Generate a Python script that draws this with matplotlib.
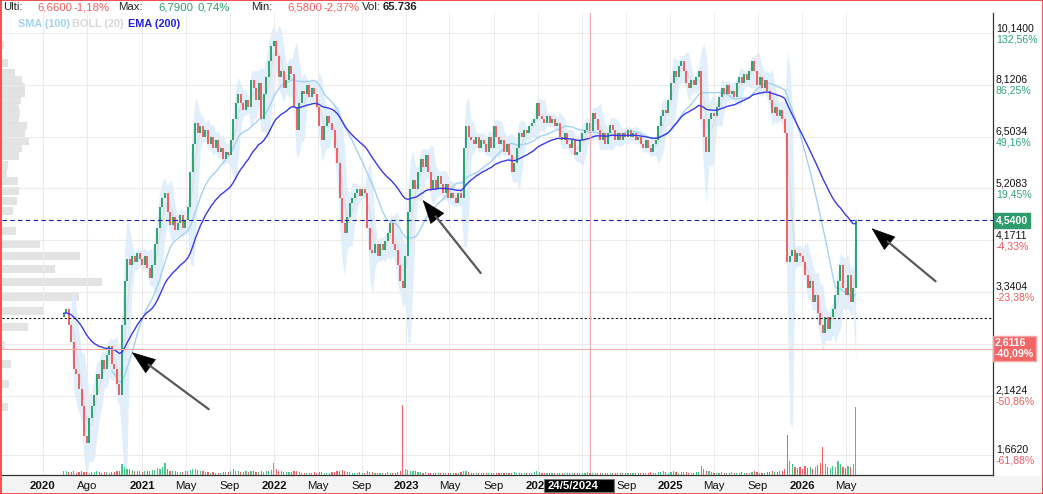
import numpy as np
import pandas as pd
import matplotlib
matplotlib.use('Agg')
import matplotlib.pyplot as plt
import matplotlib.dates as mdates
from matplotlib.patches import Rectangle
from matplotlib.ticker import FixedLocator, NullLocator

plt.rcParams['font.family'] = ['Liberation Sans', 'DejaVu Sans']

# weekly closes (first week 2020-05-29)
close = [3.05, 3.10, 2.90, 2.70, 2.40, 2.35, 2.20, 2.05, 1.80, 1.75,
         1.95, 2.05, 2.15, 2.35, 2.30, 2.50, 2.40, 2.55, 2.65, 2.45,
         2.40, 2.25, 2.15, 2.90, 3.50, 3.85, 3.75, 3.90, 3.80, 3.95,
         3.85, 3.75, 3.90, 3.70, 3.55, 3.75, 4.10, 4.40, 4.80, 5.00,
         5.10, 4.70, 4.45, 4.60, 4.35, 4.50, 4.65, 4.40, 4.55, 4.80,
         5.60, 6.30, 6.90, 6.60, 6.80, 6.50, 6.70, 6.30, 6.50, 6.20,
         6.40, 6.10, 6.20, 5.90, 6.10, 6.00, 6.40, 7.00, 7.50, 7.80,
         7.50, 7.30, 7.60, 7.40, 8.30, 8.00, 7.60, 8.20, 7.00, 7.80,
         8.40, 9.00, 9.60, 9.80, 9.20, 8.40, 8.60, 8.00, 8.30, 8.80,
         8.50, 7.40, 6.70, 7.50, 7.90, 7.80, 8.10, 7.70, 8.00, 7.80,
         7.40, 6.80, 6.40, 6.80, 7.10, 6.90, 6.70, 6.20, 5.80, 5.00,
         4.50, 4.30, 4.60, 4.90, 5.00, 5.10, 5.20, 5.05, 5.20, 5.10,
         4.40, 4.00, 3.95, 4.10, 3.90, 4.10, 4.00, 4.15, 4.30, 4.50,
         4.10, 4.00, 3.75, 3.50, 3.40, 3.90, 4.70, 5.20, 5.40, 5.20,
         5.60, 5.90, 5.70, 6.00, 5.60, 5.20, 5.40, 5.20, 5.50, 5.30,
         5.10, 5.30, 5.00, 5.10, 5.00, 4.90, 5.10, 5.00, 6.20, 6.80,
         6.50, 6.40, 6.30, 6.50, 6.20, 6.40, 6.30, 6.10, 6.50, 6.20,
         6.80, 6.50, 6.30, 6.40, 6.10, 6.30, 6.00, 5.60, 5.80, 6.20,
         6.60, 6.50, 6.70, 6.60, 6.80, 6.90, 7.00, 7.50, 7.10, 7.00,
         6.90, 7.10, 6.90, 7.00, 6.80, 6.90, 6.50, 6.40, 6.60, 6.30,
         6.20, 6.40, 6.00, 6.10, 6.40, 6.60, 6.70, 6.90, 6.66, 7.20,
         7.00, 6.70, 6.40, 6.60, 6.30, 6.60, 6.85, 6.70, 6.40, 6.60,
         6.40, 6.60, 6.50, 6.70, 6.50, 6.60, 6.40, 6.50, 6.30, 6.20,
         6.40, 6.20, 6.10, 6.30, 6.40, 6.80, 7.10, 7.30, 7.20, 7.60,
         8.20, 8.60, 8.40, 8.80, 9.00, 8.60, 8.20, 8.00, 8.30, 8.10,
         8.40, 8.60, 7.00, 6.50, 6.10, 7.00, 7.20, 7.10, 7.40, 7.70,
         8.00, 7.80, 8.10, 7.80, 7.90, 7.70, 8.20, 8.40, 8.20, 8.50,
         8.30, 8.60, 9.00, 8.60, 8.10, 8.40, 8.00, 8.30, 7.90, 7.60,
         7.20, 7.40, 7.10, 7.30, 7.00, 6.60, 3.80, 3.90, 4.00, 3.80,
         3.95, 3.90, 3.80, 3.60, 3.40, 3.50, 3.20, 3.30, 3.05, 2.90,
         2.80, 3.00, 2.85, 3.00, 3.10, 3.30, 3.50, 3.75, 3.40, 3.30,
         3.60, 3.20, 3.40, 4.54]
first_open = 3.0

# weekly volume (thousands)
volume = [60, 55, 40, 45, 50, 35, 40, 55, 45, 40, 35, 40, 45, 50, 40, 35, 45, 40, 35, 40,
          45, 50, 60, 150, 110, 90, 80, 70, 60, 55, 50,
          45, 50, 60, 55, 65, 70, 100, 90, 120, 170, 80, 60, 55, 50, 45, 40, 45, 50, 60, 70,
          80, 90, 70, 60, 50, 45, 40, 35, 40, 35,
          30, 35, 40, 45, 40, 50, 80, 60, 50, 45, 40, 50, 45, 60, 50, 40, 45, 50, 40, 55,
          60, 70, 170, 80, 60, 50, 45, 40, 45, 40,
          60, 50, 40, 35, 30, 35, 30, 35, 40, 30, 45, 40, 35, 30, 35, 40, 45, 50, 60, 70,
          55, 45, 40, 35, 30, 35, 40, 30, 35, 60,
          45, 40, 35, 30, 35, 30, 35, 40, 35, 30, 35, 40, 50, 1000, 90, 70, 60, 50, 55, 45,
          40, 35, 40, 35, 30, 35, 30, 25, 30, 25,
          25, 30, 25, 30, 25, 35, 40, 60, 50, 40, 35, 30, 25, 30, 25, 30, 35, 30, 25, 30,
          35, 30, 25, 30, 25, 30, 35, 45, 30, 25,
          30, 25, 30, 35, 30, 40, 60, 40, 30, 35, 30, 25, 30, 35, 30, 25, 30, 25, 30, 35,
          30, 25, 30, 25, 30, 35, 40, 35, 30, 35,
          30, 25, 30, 25, 30, 25, 30, 35, 30, 25, 30, 25, 30, 35, 30, 25, 30, 25, 30, 35,
          30, 40, 35, 30, 40, 45, 50, 40, 35, 45,
          50, 40, 35, 40, 45, 40, 35, 30, 35, 40, 45, 130, 90, 60, 50, 40, 35, 30, 35, 40,
          35, 30, 35, 40, 35, 30, 35, 40, 35, 30,
          35, 40, 50, 40, 35, 30, 35, 40, 45, 50, 45, 40, 50, 60, 80, 570, 200, 150, 120, 100,
          110, 90, 130, 100, 110, 90, 120, 140, 170, 400,
          150, 120, 100, 130, 110, 200, 150, 120, 100, 130, 110, 160, 960]

# volume profile on the left (price level, size)
prof_price = [9.63, 8.92, 8.54, 8.29, 8.04, 7.84, 7.61, 7.38, 7.20, 6.98, 6.81, 6.60, 6.38,
              6.19, 5.98, 5.76, 5.56, 5.38, 5.15, 4.93, 4.73, 4.34, 4.10, 3.90, 3.69, 3.49,
              3.27, 3.08, 2.87, 2.66, 2.45, 2.25, 2.04]
prof_size = [2, 6, 13, 20, 23, 23, 19, 17, 18, 17, 25, 23, 27,
             20, 17, 6, 5, 16, 17, 15, 11, 14, 38, 78, 53, 100,
             77, 41, 26, 3, 9, 7, 6]

# right axis (the 2,6751 level is hidden under the crosshair box)
ytick_vals = [10.14, 8.1206, 6.5034, 5.2083, 4.1711, 3.3404, 2.6751, 2.1424, 1.662]
ytick_txt = ['10,1400', '8,1206', '6,5034', '5,2083', '4,1711', '3,3404', '', '2,1424', '1,6620']
ytick_pct = ['132,56%', '86,25%', '49,16%', '19,45%', '-4,33%', '-23,38%', '', '-50,86%', '-61,88%']

# bottom axis
xtick_dates = ['2020-04-01', '2020-08-01', '2021-01-01', '2021-05-01', '2021-09-01',
               '2022-01-01', '2022-05-01', '2022-09-01', '2023-01-01', '2023-05-01',
               '2023-09-01', '2024-01-01', '2024-05-01', '2024-09-01', '2025-01-01',
               '2025-05-01', '2025-09-01', '2026-01-01', '2026-05-01']
xtick_txt = ['2020', 'Ago', '2021', 'May', 'Sep', '2022', 'May', 'Sep', '2023', 'May',
             'Sep', '2024', '', 'Sep', '2025', 'May', 'Sep', '2026', 'May']

last_price = 4.54
ref_level = 2.99
cross_price = 2.6116
cross_date = '2024-05-24'
arrow_tips = [('2020-12-03', 2.58), ('2023-02-16', 4.955), ('2026-07-12', 4.39)]

header = [('Ulti:', '#222222', 'normal', 3), ('6,6600', '#f25c5c', 'normal', 37),
          ('-1,18%', '#f25c5c', 'normal', 74), ('Max:', '#222222', 'normal', 118),
          ('6,7900', '#2e9e6e', 'normal', 158), ('0,74%', '#2e9e6e', 'normal', 198),
          ('Min:', '#222222', 'normal', 251), ('6,5800', '#f25c5c', 'normal', 287),
          ('-2,37%', '#f25c5c', 'normal', 323), ('Vol:', '#222222', 'normal', 362),
          ('65.736', '#222222', 'bold', 383)]

GREEN = '#27a06e'
RED = '#ef5b5b'
W, H = 1043, 494

s = pd.Series(close, index=pd.date_range('2020-05-29', periods=len(close), freq='7D'))
opens = s.shift(1).fillna(first_open)
ema = s.ewm(span=40, adjust=False).mean()
sma = s.rolling(20).mean()
mid = s.rolling(4).mean()
sd = s.rolling(4).std()
upper = mid + 2 * sd
lower = (mid - 2 * sd).clip(lower=0.8)

xs = mdates.date2num(s.index)
up_mask = s.values >= opens.values
cols = np.where(up_mask, GREEN, RED)

fig = plt.figure(figsize=(W / 100, H / 100), dpi=100)
rect = [2 / W, 19 / H, 991 / W, 462 / H]
xlim = (mdates.datestr2num('2019-12-10'), mdates.datestr2num('2027-06-13'))
ylim = (1.524, 11.05)

# volume profile behind everything
axp = fig.add_axes(rect, zorder=0)
axp.set_yscale('log')
axp.set_ylim(*ylim)
axp.set_xlim(0, 991)
axp.barh(prof_price, prof_size, height=[p * 0.034 for p in prof_price],
         color='#e0e0e0', alpha=0.9)
axp.axis('off')

ax = fig.add_axes(rect, zorder=1)
ax.patch.set_visible(False)
ax.set_yscale('log')
ax.set_ylim(*ylim)
ax.set_xlim(*xlim)
ax.yaxis.set_major_locator(FixedLocator(ytick_vals))
ax.yaxis.set_minor_locator(NullLocator())
ax.set_yticklabels([])
ax.set_xticks(mdates.datestr2num(xtick_dates))
ax.set_xticklabels(xtick_txt)
ax.tick_params(length=0, labelsize=8.2, pad=4, colors='#111111')
for lab in ax.get_xticklabels():
    if len(lab.get_text()) == 4:
        lab.set_fontweight('bold')
ax.grid(True, color='#ebebeb', lw=0.75, zorder=0)
for side in ['top', 'left']:
    ax.spines[side].set_visible(False)
ax.spines['right'].set_color('#333333')
ax.spines['bottom'].set_color('#333333')
ax.spines['right'].set_linewidth(0.9)
ax.spines['bottom'].set_linewidth(0.9)

# bollinger band + moving averages
ax.fill_between(xs, lower.values, upper.values, color='#d9ecfb', alpha=0.8, lw=0, zorder=1)
ax.plot(xs, mid.values, color='#dedede', lw=0.9, zorder=2)
ax.plot(xs, sma.values, color='#a3d2f5', lw=1.0, zorder=3)
ax.plot(xs, ema.values, color='#3a3ae8', lw=1.0, zorder=5)

# candles
lo_b = np.minimum(opens.values, s.values)
hi_b = np.maximum(opens.values, s.values)
ax.vlines(xs, lo_b, hi_b, colors=cols, lw=1.35, zorder=4)

# reference lines
ax.axhline(last_price, color='#1c1ca8', lw=0.8, ls=(0, (4, 3)), zorder=6)
ax.axhline(ref_level, color='#111111', lw=0.8, ls=(0, (2, 2)), zorder=6)
ax.axhline(cross_price, color='#f3aaaa', lw=0.8, zorder=6)
ax.axvline(mdates.datestr2num(cross_date), color='#f3aaaa', lw=0.8, zorder=6)

# arrows
offsets = [(77, -57), (58, -73), (64, -53)]
for (d, p), (dx, dy) in zip(arrow_tips, offsets):
    xy = (mdates.datestr2num(d), p)
    ax.annotate('', xy=xy, xytext=(dx, dy), textcoords='offset pixels',
                annotation_clip=False,
                arrowprops=dict(arrowstyle='-|>,head_length=1.15,head_width=0.42',
                                mutation_scale=14, color='black', lw=0.5,
                                shrinkA=0, shrinkB=0), zorder=8)
    ax.annotate('', xy=xy, xytext=(dx, dy), textcoords='offset pixels',
                annotation_clip=False,
                arrowprops=dict(arrowstyle='-', color='#5a5a5a', lw=1.6,
                                shrinkA=0, shrinkB=15), zorder=9)

# right axis labels
for v, t, pct in zip(ytick_vals, ytick_txt, ytick_pct):
    if not t:
        continue
    pc = '#2fa57a' if not pct.startswith('-') else '#f05a5a'
    ax.annotate(t, xy=(1, v), xycoords=('axes fraction', 'data'), xytext=(3, 5),
                textcoords='offset pixels', va='center', ha='left', fontsize=7.6,
                color='#111111', annotation_clip=False)
    ax.annotate(pct, xy=(1, v), xycoords=('axes fraction', 'data'), xytext=(3, -6),
                textcoords='offset pixels', va='center', ha='left', fontsize=7.6,
                color=pc, annotation_clip=False)

ax.annotate('4,5400', xy=(1, last_price), xycoords=('axes fraction', 'data'),
            xytext=(3, 0), textcoords='offset pixels', va='center', ha='left',
            fontsize=7.6, color='white', fontweight='bold', annotation_clip=False,
            bbox=dict(boxstyle='square,pad=0.2', fc='#2e9c6c', ec='#2e9c6c'), zorder=10)
ax.annotate('2,6116\n-40,09%', xy=(1, cross_price), xycoords=('axes fraction', 'data'),
            xytext=(2, 1), textcoords='offset pixels', va='center', ha='left',
            fontsize=7.6, color='white', fontweight='bold', annotation_clip=False,
            linespacing=1.15,
            bbox=dict(boxstyle='square,pad=0.2', fc='#f46565', ec='#f7a5a5'), zorder=10)

# crosshair date box on the bottom axis, covering part of the 2024 label
fig.canvas.draw()
cx = ax.transData.transform((mdates.datestr2num(cross_date), 2.0))[0]
fig.patches.append(Rectangle((cx - 46, 2), 70, 13, transform=None,
                             fc='black', ec='#777777', lw=0.8, zorder=10))
fig.text((cx - 42) / W, 8.5 / H, '24/5/2024', color='white', fontsize=8.2,
         fontweight='bold', va='center', ha='left', zorder=11)

# volume at the bottom
axv = ax.twinx()
axv.set_zorder(2)
axv.patch.set_visible(False)
axv.set_ylim(0, 6570)
axv.bar(xs, volume, width=3.2, color=np.where(up_mask, '#45c985', '#f06262'), lw=0)
axv.axis('off')

# legend and header
fig.text(18 / W, 1 - 24 / H, 'SMA (100)', color='#a3d2f5', fontsize=7.8,
         fontweight='bold', va='center')
fig.text(72 / W, 1 - 24 / H, 'BOLL (20)', color='#d8d8d8', fontsize=7.8,
         fontweight='bold', va='center')
fig.text(128 / W, 1 - 24 / H, 'EMA (200)', color='#2222dd', fontsize=7.8,
         fontweight='bold', va='center')
for txt, c, wt, px in header:
    fig.text(px / W, 1 - 7.5 / H, txt, color=c, fontsize=8.2, fontweight=wt, va='center')

# bottom band and red frame
fig.patches.append(Rectangle((2 / W, 2 / H), 1039 / W, 16 / H, transform=fig.transFigure,
                             color='#f4f4f4', zorder=-5))
fig.patches.append(Rectangle((0.5 / W, 0.5 / H), 1 - 1 / W, 1 - 1 / H, transform=fig.transFigure,
                             fill=False, ec='#ee3333', lw=1.2, zorder=20))

fig.savefig('out.png', dpi=100)
